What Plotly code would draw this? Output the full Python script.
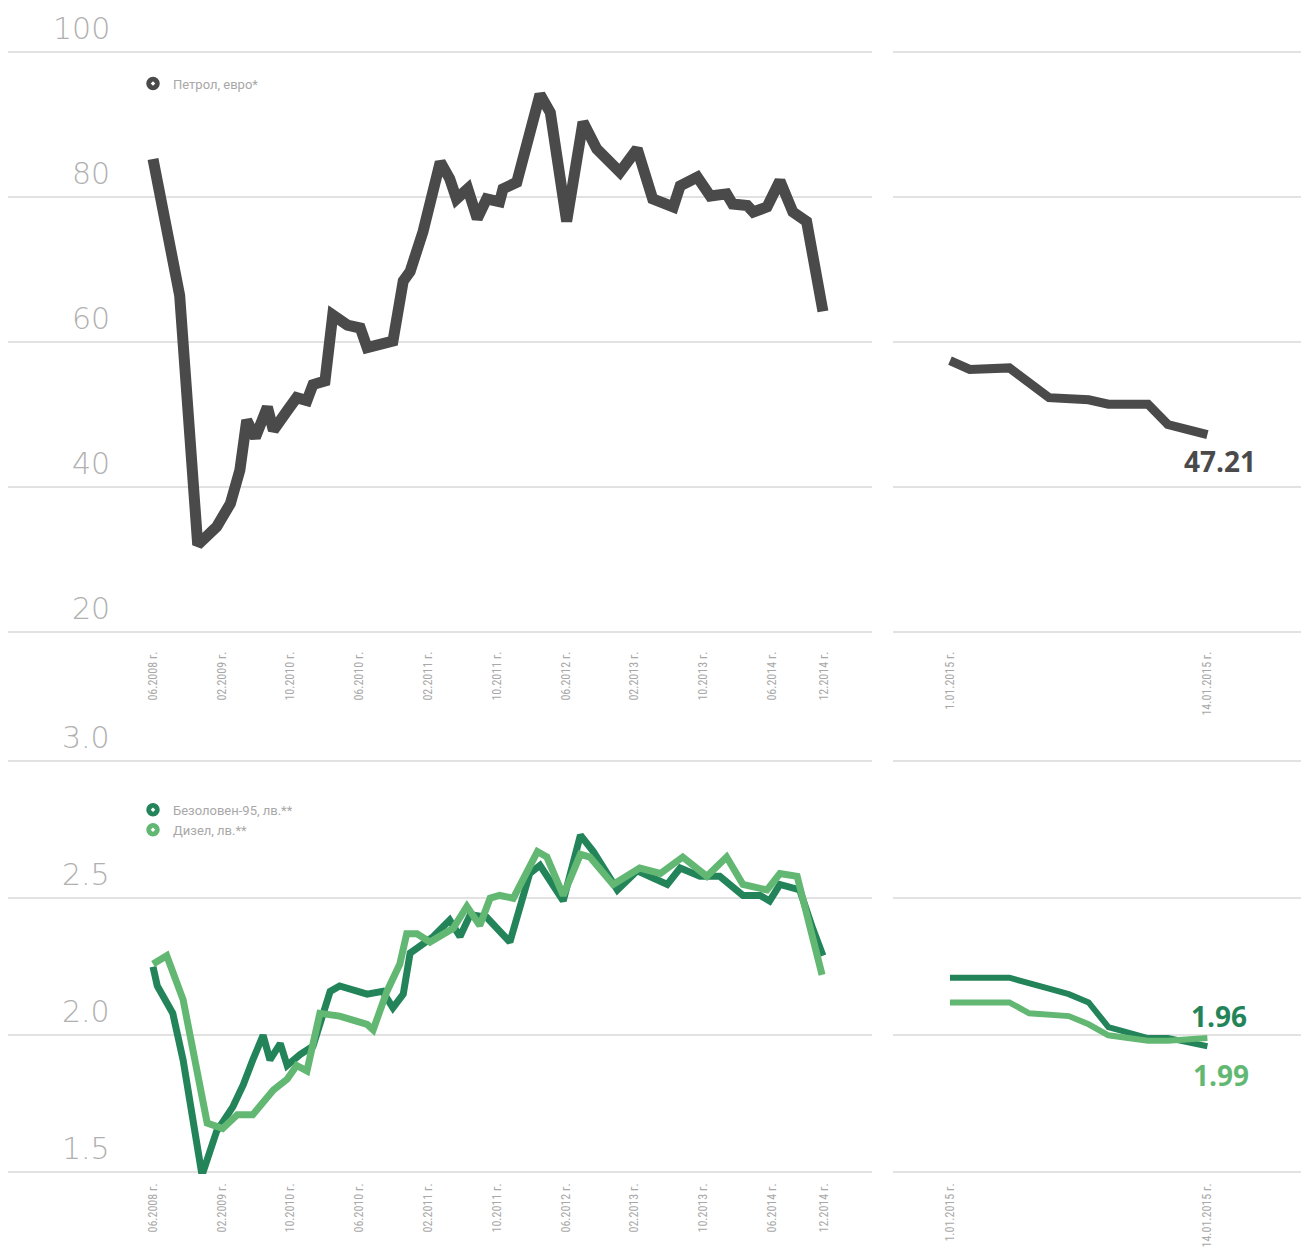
import plotly.graph_objects as go

# ---------------- data ----------------
month_ticks = [0, 8, 16, 24, 32, 40, 48, 56, 64, 72, 78]
month_labels = ["06.2008 г.", "02.2009 г.", "10.2010 г.", "06.2010 г.", "02.2011 г.", "10.2011 г.",
                "06.2012 г.", "02.2013 г.", "10.2013 г.", "06.2014 г.", "12.2014 г."]
day_ticks = [1, 14]
day_labels = ["1.01.2015 г.", "14.01.2015 г."]

top_yticks = [20, 40, 60, 80, 100]
bot_yticks = [1.5, 2.0, 2.5, 3.0]

# Brent, euro (months since 06.2008)
brent_m = [0, 2.3, 3.1, 5.2, 7.4, 9.0, 10.1, 10.9, 11.9, 13.3, 14.0, 15.6, 16.7, 17.9, 18.6, 20.0,
           20.9, 22.6, 24.1, 24.9, 26.4, 27.9, 29.1, 29.9, 31.4, 33.4, 34.5, 35.3, 36.6, 37.7, 38.8,
           40.3, 40.7, 42.3, 45.0, 46.2, 48.1, 50.0, 51.6, 54.3, 56.3, 58.1, 60.5, 61.3, 63.3, 64.8,
           66.7, 67.4, 69.1, 69.8, 71.4, 72.9, 74.4, 76.0, 77.9]
brent_v = [85.2, 70.5, 66.4, 32.0, 34.5, 37.7, 42.3, 49.2, 46.8, 51.0, 47.8, 50.5, 52.3, 51.9, 54.1, 54.6,
           63.7, 62.3, 61.9, 59.2, 59.6, 60.1, 68.4, 69.7, 75.2, 84.8, 82.5, 79.7, 81.1, 77.0, 79.7,
           79.3, 81.1, 82.0, 94.1, 91.6, 76.6, 90.3, 86.6, 83.4, 86.6, 79.7, 78.6, 81.5, 82.7, 80.1,
           80.4, 79.0, 78.8, 77.9, 78.6, 82.2, 77.9, 76.6, 64.2]

# Brent, January 2015 (day of month)
brent_jan_d = [1, 2, 4, 6, 8, 9, 11, 12, 14]
brent_jan_v = [57.4, 56.2, 56.4, 52.3, 52.0, 51.4, 51.4, 48.6, 47.21]

# Unleaded-95, lv.
a95_m = [0, 0.5, 2.3, 3.5, 5.7, 7.4, 9.3, 10.5, 11.6, 12.8, 13.6, 14.8, 15.6, 17.1, 18.6, 20.6, 21.7,
         24.9, 26.7, 27.9, 29.1, 29.9, 32.6, 34.5, 35.7, 36.9, 38.8, 41.5, 43.8, 45.0, 47.7, 49.7,
         51.2, 54.0, 56.3, 59.8, 61.3, 63.6, 65.9, 68.6, 70.6, 71.7, 72.9, 75.2, 76.7, 77.9]
a95_v = [2.25, 2.18, 2.08, 1.91, 1.49, 1.65, 1.74, 1.82, 1.91, 2.00, 1.91, 1.97, 1.89, 1.93, 1.96, 2.16, 2.18,
         2.15, 2.16, 2.10, 2.15, 2.30, 2.36, 2.42, 2.36, 2.44, 2.43, 2.34, 2.59, 2.62, 2.49, 2.73,
         2.67, 2.53, 2.60, 2.55, 2.61, 2.58, 2.58, 2.51, 2.51, 2.49, 2.55, 2.53, 2.39, 2.29]
a95_jan_d = [1, 4, 6, 7, 8, 9, 11, 12, 14]
a95_jan_v = [2.21, 2.21, 2.17, 2.15, 2.12, 2.03, 1.99, 1.99, 1.96]

# Diesel, lv.
dsl_m = [0, 1.6, 3.5, 4.7, 6.3, 8.1, 9.8, 11.6, 14.0, 15.6, 16.7, 17.9, 19.4, 21.7, 24.9, 25.6, 27.2,
         28.7, 29.5, 30.7, 32.2, 34.9, 36.5, 38.0, 39.2, 40.3, 41.9, 44.7, 45.8, 47.7, 49.7, 50.8,
         53.5, 56.6, 59.0, 61.6, 64.4, 66.7, 68.6, 71.4, 72.9, 74.9, 76.7, 77.8]
dsl_v = [2.26, 2.29, 2.13, 1.93, 1.68, 1.66, 1.71, 1.71, 1.80, 1.84, 1.89, 1.87, 2.08, 2.07, 2.04, 2.02, 2.16,
         2.26, 2.37, 2.37, 2.34, 2.39, 2.47, 2.40, 2.50, 2.51, 2.50, 2.67, 2.65, 2.51, 2.66, 2.65,
         2.55, 2.61, 2.59, 2.65, 2.58, 2.65, 2.55, 2.53, 2.59, 2.58, 2.37, 2.22]
dsl_jan_d = [1, 4, 5, 7, 8, 9, 11, 12, 14]
dsl_jan_v = [2.12, 2.12, 2.08, 2.07, 2.04, 2.00, 1.98, 1.98, 1.99]

names = ["Петрол, евро*", "Безоловен-95, лв.**", "Дизел, лв.**"]
end_labels = ["47.21", "1.96", "1.99"]

# ---------------- styling / layout helpers ----------------
GREY = "#4a4a4a"
DGREEN = "#23845a"
LGREEN = "#62b872"
GRID = "#e2e2e2"
TXT = "#a8a8a8"

W, H = 1293, 1240
HEFF = 1232  # empirical vertical scale correction
OFF = 8


def fx(px):
    return min(1, max(0, (px - OFF) / W))


def fy(py):
    return min(1, max(0, 1 - (py - OFF) / HEFF))


# pixel mapping of the x scales (reference pixels)
def left_val(px):
    return (px - 153) / 8.6


def right_val(px):
    return 1 + (px - 950) / 19.8


L0, L1 = max(OFF, 5), 872
R0, R1 = 893, OFF + W

fig = go.Figure()

fig.add_trace(go.Scatter(x=brent_m, y=brent_v, mode="lines", line=dict(color=GREY, width=11),
                         xaxis="x", yaxis="y", showlegend=False, hoverinfo="skip"))
fig.add_trace(go.Scatter(x=brent_jan_d, y=brent_jan_v, mode="lines", line=dict(color=GREY, width=9),
                         xaxis="x2", yaxis="y2", showlegend=False, hoverinfo="skip"))
fig.add_trace(go.Scatter(x=a95_m, y=a95_v, mode="lines", line=dict(color=DGREEN, width=7),
                         xaxis="x3", yaxis="y3", showlegend=False, hoverinfo="skip"))
fig.add_trace(go.Scatter(x=dsl_m, y=dsl_v, mode="lines", line=dict(color=LGREEN, width=7),
                         xaxis="x3", yaxis="y3", showlegend=False, hoverinfo="skip"))
fig.add_trace(go.Scatter(x=a95_jan_d, y=a95_jan_v, mode="lines", line=dict(color=DGREEN, width=6),
                         xaxis="x4", yaxis="y4", showlegend=False, hoverinfo="skip"))
fig.add_trace(go.Scatter(x=dsl_jan_d, y=dsl_jan_v, mode="lines", line=dict(color=LGREEN, width=6),
                         xaxis="x4", yaxis="y4", showlegend=False, hoverinfo="skip"))

# legend entries
for nm, col, lg in [(names[0], GREY, "legend"), (names[1], DGREEN, "legend2"), (names[2], LGREEN, "legend2")]:
    fig.add_trace(go.Scatter(x=[None], y=[None], mode="markers", name=nm, legend=lg,
                             marker=dict(symbol="circle-dot", size=19, color=col,
                                         line=dict(color="white", width=2.5)),
                             xaxis="x", yaxis="y"))

tickfont = dict(family="Liberation Sans Narrow, Roboto Condensed, Roboto", size=12, color=TXT)
xcommon = dict(showgrid=False, zeroline=False, showline=False, ticks="", tickangle=-90,
               tickfont=tickfont, fixedrange=True)
ycommon = dict(showgrid=True, gridcolor=GRID, gridwidth=2, zeroline=False, showline=False,
               showticklabels=False, ticks="", fixedrange=True)

# small padding so the edge gridlines (20/100, 1.5/3.0) are drawn
PT, PB = 0.3, 0.006
top_rng = [20 - PT, 100 + PT]
bot_rng = [1.5 - PB, 3.0 + PB]
top_pp = (636 - 52) / 80.0
bot_pp = (1180 - 766) / 1.5
top_dom = [fy(636 + PT * top_pp), fy(52 - PT * top_pp)]
bot_dom = [fy(1180 + PB * bot_pp), fy(766 - PB * bot_pp)]

fig.update_layout(
    width=W, height=H, margin=dict(l=0, r=0, t=0, b=0),
    paper_bgcolor="white", plot_bgcolor="white",
    xaxis=dict(domain=[fx(L0), fx(L1)], range=[left_val(L0), left_val(L1)], anchor="y",
               tickvals=month_ticks, ticktext=month_labels, ticklabelstandoff=14, **xcommon),
    xaxis2=dict(domain=[fx(R0), fx(R1)], range=[right_val(R0), right_val(R1)], anchor="y2",
                tickvals=day_ticks, ticktext=day_labels, ticklabelstandoff=14, **xcommon),
    xaxis3=dict(domain=[fx(L0), fx(L1)], range=[left_val(L0), left_val(L1)], anchor="y3",
                tickvals=month_ticks, ticktext=month_labels, ticklabelstandoff=6, **xcommon),
    xaxis4=dict(domain=[fx(R0), fx(R1)], range=[right_val(R0), right_val(R1)], anchor="y4",
                tickvals=day_ticks, ticktext=day_labels, ticklabelstandoff=6, **xcommon),
    yaxis=dict(domain=top_dom, range=top_rng, anchor="x", tickvals=top_yticks, **ycommon),
    yaxis2=dict(domain=top_dom, range=top_rng, anchor="x2", tickvals=top_yticks, **ycommon),
    yaxis3=dict(domain=bot_dom, range=bot_rng, anchor="x3", tickvals=bot_yticks, **ycommon),
    yaxis4=dict(domain=bot_dom, range=bot_rng, anchor="x4", tickvals=bot_yticks, **ycommon),
    legend=dict(x=fx(133), y=fy(69), xanchor="left", yanchor="top", bgcolor="rgba(0,0,0,0)",
                font=dict(family="Roboto", size=13, color=TXT), itemwidth=30, tracegroupgap=0),
    legend2=dict(x=fx(133), y=fy(800), xanchor="left", yanchor="top", bgcolor="rgba(0,0,0,0)",
                 font=dict(family="Roboto", size=13, color=TXT), itemwidth=30, tracegroupgap=0),
)

annots = []
yfont = dict(family="DejaVu Sans", size=30, color="#b0b0b0", weight=200)
for v in top_yticks:
    annots.append(dict(x=fx(112), xref="paper", xanchor="right", y=v, yref="y", yanchor="bottom",
                       yshift=4, text=str(v), showarrow=False, font=yfont))
for v in bot_yticks:
    annots.append(dict(x=fx(112), xref="paper", xanchor="right", y=v, yref="y3", yanchor="bottom",
                       yshift=4, text=f"{v:.1f}", showarrow=False, font=yfont))

bold = dict(family="Open Sans", size=28, weight=700)
annots.append(dict(x=brent_jan_d[-1], xref="x2", y=brent_jan_v[-1], yref="y2", xanchor="center",
                   xshift=13, yshift=-26, text=end_labels[0], showarrow=False,
                   font=dict(color=GREY, **bold)))
annots.append(dict(x=a95_jan_d[-1], xref="x4", y=a95_jan_v[-1], yref="y4", xanchor="center",
                   xshift=12, yshift=30, text=end_labels[1], showarrow=False,
                   font=dict(color=DGREEN, **bold)))
annots.append(dict(x=dsl_jan_d[-1], xref="x4", y=dsl_jan_v[-1], yref="y4", xanchor="center",
                   xshift=14, yshift=-37, text=end_labels[2], showarrow=False,
                   font=dict(color=LGREEN, **bold)))
fig.update_layout(annotations=annots)

fig.write_html("out.html")
